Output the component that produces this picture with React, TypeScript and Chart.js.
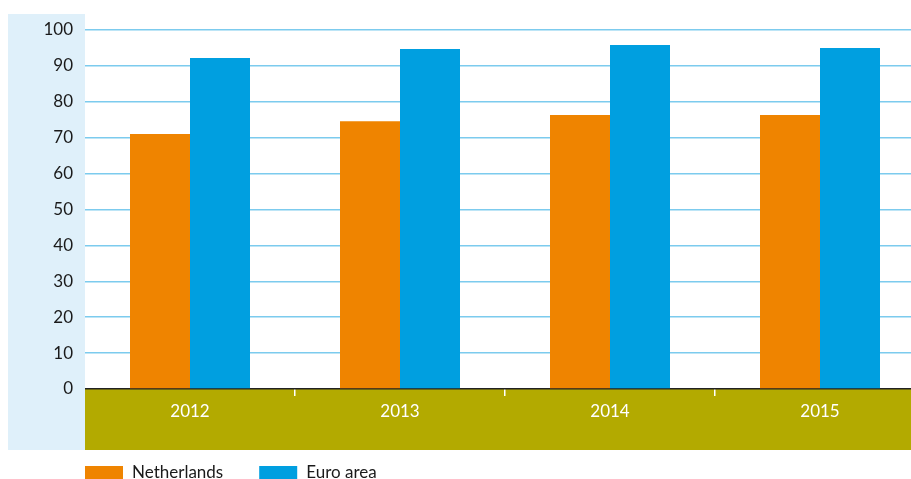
import React, { useEffect, useRef } from "react";
import { Chart, registerables } from "chart.js";

Chart.register(...registerables);

const categories = ["2012", "2013", "2014", "2015"];
const netherlands = [71.0, 74.6, 76.3, 76.3];
const euroArea = [92.2, 94.7, 95.8, 95.0];
const yTicks = [0, 10, 20, 30, 40, 50, 60, 70, 80, 90, 100];

const FONT = "Lato, 'Open Sans', sans-serif";

const backgroundPlugin = {
  id: "bgPanels",
  beforeDraw(chart: any) {
    const { ctx, chartArea } = chart;
    ctx.save();
    ctx.fillStyle = "#dff0fa";
    ctx.fillRect(8, 14, chartArea.left - 8, 450 - 14);
    ctx.fillStyle = "#b3aa00";
    ctx.fillRect(chartArea.left, chartArea.bottom, chart.width - chartArea.left, 450 - chartArea.bottom);
    ctx.restore();
  },
  afterDraw(chart: any) {
    const { ctx, chartArea } = chart;
    ctx.save();
    ctx.font = "17px " + FONT;
    ctx.textBaseline = "alphabetic";
    let x = chartArea.left;
    const boxTop = 466;
    chart.data.datasets.forEach((ds: any) => {
      ctx.fillStyle = ds.backgroundColor;
      ctx.fillRect(x, boxTop, 38, 13);
      ctx.fillStyle = "#1a1a1a";
      const tx = x + 38 + 9;
      ctx.fillText(ds.label, tx, 478);
      x = tx + ctx.measureText(ds.label).width + 36;
    });
    ctx.restore();
  },
};

export default function App() {
  const ref = useRef<HTMLCanvasElement>(null);
  useEffect(() => {
    document.documentElement.style.overflow = "hidden";
    document.body.style.margin = "0";
    if (!ref.current) return;
    const chart = new Chart(ref.current, {
      type: "bar",
      data: {
        labels: categories,
        datasets: [
          { label: "Netherlands", data: netherlands, backgroundColor: "#ef8400", borderWidth: 0 },
          { label: "Euro area", data: euroArea, backgroundColor: "#009fe0", borderWidth: 0 },
        ],
      },
      options: {
        animation: false,
        responsive: false,
        devicePixelRatio: 1,
        layout: { padding: { top: 30, left: 0, right: 0, bottom: 0 } },
        datasets: { bar: { categoryPercentage: 120 / 210, barPercentage: 1 } },
        plugins: { legend: { display: false }, tooltip: { enabled: false } },
        scales: {
          x: {
            offset: true,
            border: { display: false },
            grid: {
              display: true,
              offset: true,
              drawOnChartArea: false,
              drawTicks: true,
              tickLength: 7,
              lineWidth: 1.5,
              color: (c: any) => (c.index === 0 ? "rgba(0,0,0,0)" : "#ffffff"),
            },
            ticks: { color: "#ffffff", font: { family: FONT, size: 17 }, padding: 5 },
            afterFit: (s: any) => {
              s.height = 90;
            },
          },
          y: {
            min: 0,
            max: 100,
            border: { display: false },
            grid: {
              drawTicks: false,
              lineWidth: 1.5,
              color: (c: any) => (c.tick && c.tick.value === 0 ? "#222222" : "#7ccbee"),
            },
            ticks: {
              stepSize: 10,
              padding: 12,
              color: "#1a1a1a",
              font: { family: FONT, size: 17 },
              callback: (v: any) => (yTicks.includes(v) ? String(v) : ""),
            },
            afterFit: (s: any) => {
              s.width = 85;
            },
          },
        },
      },
      plugins: [backgroundPlugin],
    } as any);
    return () => chart.destroy();
  }, []);
  return (
    <div style={{ width: 911, height: 479, overflow: "hidden" }}>
      <canvas ref={ref} width={925} height={479} style={{ display: "block" }} />
    </div>
  );
}
